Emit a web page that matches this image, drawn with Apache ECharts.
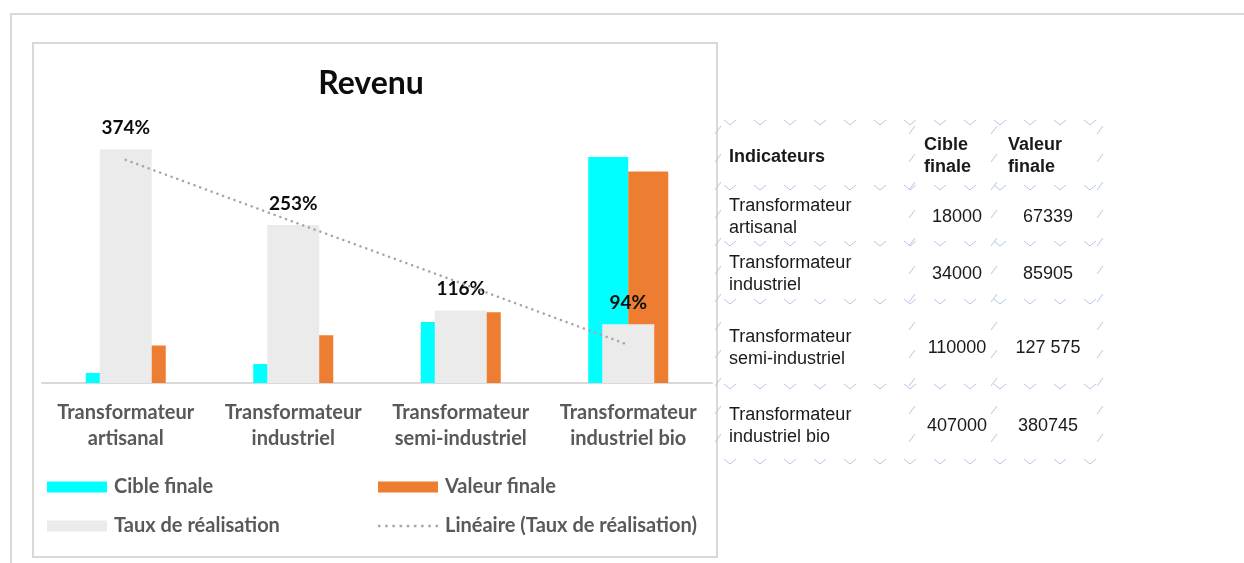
<!DOCTYPE html>
<html>
<head>
<meta charset="utf-8">
<title>Revenu</title>
<script src="https://cdn.jsdelivr.net/npm/echarts@6/dist/echarts.min.js"></script>
<style>
  html, body { margin: 0; padding: 0; background: #fff; }
  #main { width: 1244px; height: 563px; }
</style>
</head>
<body>
<div id="main"></div>
<script type="text/javascript">
// data
var categories = ['Transformateur\nartisanal', 'Transformateur\nindustriel',
                  'Transformateur\nsemi-industriel', 'Transformateur\nindustriel bio'];
var cibleFinale = [18000, 34000, 110000, 407000];
var valeurFinale = [67339, 85905, 127575, 380745];
var tauxRealisation = [3.74, 2.53, 1.16, 0.94];
var tendance = [3.57, 2.58, 1.60, 0.61];   // linear trend line
var cibleTexte = ['18000', '34000', '110000', '407000'];
var valeurTexte = ['67339', '85905', '127 575', '380745'];

var myChart = echarts.init(document.getElementById('main'));

var font = 'Lato, "Open Sans", sans-serif';
var tableFont = '"Liberation Sans", Arial, sans-serif';
var grid = { left: 42, right: 532, top: 133, bottom: 180 };

// decorative table borders (chevron pattern)
var deco = [];
var chevColor = '#b4c6e7';
var hLines = [123, 188, 244, 302, 387, 462];
hLines.forEach(function (y) {
  for (var x = 724; x < 1098; x += 30) {
    deco.push({ type: 'polyline', silent: true,
      shape: { points: [[x, y - 3], [x + 6, y + 2], [x + 12, y - 3]] },
      style: { stroke: chevColor, lineWidth: 1, fill: null } });
  }
});
[718, 912, 994, 1100].forEach(function (x) {
  for (var y = 130; y < 460; y += 28) {
    deco.push({ type: 'line', silent: true,
      shape: { x1: x - 3, y1: y + 4, x2: x + 3, y2: y - 4 },
      style: { stroke: chevColor, lineWidth: 1 } });
  }
});

// table texts
var tableTexts = [];
function txt(s, x, y, opts) {
  opts = opts || {};
  tableTexts.push({ type: 'text', silent: true, z: 10,
    style: { text: s, x: x, y: y, fill: '#1a1a1a',
      font: (opts.bold ? 'bold ' : '') + '18px ' + tableFont,
      lineHeight: 22,
      textAlign: opts.align || 'left', align: opts.align || 'left',
      textVerticalAlign: 'middle', verticalAlign: 'middle' } });
}
txt('Indicateurs', 729, 157, { bold: true });
txt('Cible\nfinale', 924, 156, { bold: true });
txt('Valeur\nfinale', 1008, 156, { bold: true });
var rowY = [217, 274, 348, 426];
categories.forEach(function (c, i) {
  txt(c, 729, rowY[i]);
  txt(cibleTexte[i], 957, rowY[i], { align: 'center' });
  txt(valeurTexte[i], 1048, rowY[i], { align: 'center' });
});

// dotted icon for the trend line legend
var dots = 'path://';
for (var d = 0; d < 9; d++) {
  dots += 'M' + (d * 7.25) + ',0h2.5v2.5h-2.5z';
}

var legendText = { color: '#595959', fontWeight: 'bold', fontSize: 20, fontFamily: font, padding: [0, 0, 0, 2] };
function legendAt(item, left, top, h) {
  return { data: [item], left: left, top: top, itemWidth: 60, itemHeight: h || 11,
           icon: 'rect', itemGap: 0, textStyle: legendText, selectedMode: false, padding: 0 };
}

var option = {
  backgroundColor: '#ffffff',
  animation: false,
  title: {
    text: 'Revenu', left: 366, top: 63, textAlign: 'center',
    textStyle: { fontSize: 32, fontWeight: 'bold', color: '#0d0d0d', fontFamily: font }
  },
  legend: [
    legendAt('Cible finale', 47, 477),
    legendAt('Valeur finale', 378, 477),
    legendAt('Taux de réalisation', 47, 516),
    legendAt({ name: 'Linéaire (Taux de réalisation)', icon: dots }, 378, 516, 3)
  ],
  grid: grid,
  xAxis: [
    {
      type: 'category', data: categories,
      axisLine: { lineStyle: { color: '#d9d9d9', width: 2 } },
      axisTick: { show: false },
      axisLabel: { color: '#595959', fontWeight: 'bold', fontSize: 20, fontFamily: font,
                   lineHeight: 26, margin: 17, interval: 0 }
    },
    { type: 'category', data: categories, show: false }
  ],
  yAxis: [
    { type: 'value', min: 0, max: 450000, show: false, splitLine: { show: false } },
    { type: 'value', min: 0, max: 4, show: false, splitLine: { show: false } }
  ],
  series: [
    { name: 'Cible finale', type: 'bar', data: cibleFinale, barWidth: 40, barGap: '0%',
      itemStyle: { color: '#00ffff' } },
    { name: 'Valeur finale', type: 'bar', data: valeurFinale, barWidth: 40,
      itemStyle: { color: '#ed7d31' } },
    { name: 'Taux de réalisation', type: 'bar', data: tauxRealisation, barWidth: 52,
      xAxisIndex: 1, yAxisIndex: 1,
      itemStyle: { color: '#ebebeb' },
      label: { show: true, position: 'top', distance: 12, color: '#0d0d0d',
               fontWeight: 'bold', fontSize: 19, fontFamily: font,
               formatter: function (p) { return Math.round(p.value * 100) + '%'; } } },
    { name: 'Linéaire (Taux de réalisation)', type: 'line', data: tendance,
      xAxisIndex: 1, yAxisIndex: 1, symbol: 'none', z: 5,
      itemStyle: { color: '#a6a6a6' },
      lineStyle: { color: '#a6a6a6', width: 2.5, type: [0.1, 6], cap: 'round' } }
  ],
  graphic: [
    // outer frame
    { type: 'polyline', silent: true,
      shape: { points: [[11, 563], [11, 14], [1244, 14]] },
      style: { stroke: '#d9d9d9', lineWidth: 2, fill: null } },
    // chart panel border
    { type: 'rect', silent: true, z: -1,
      shape: { x: 33, y: 43, width: 684, height: 514 },
      style: { stroke: '#d9d9d9', lineWidth: 2, fill: '#ffffff' } }
  ].concat(deco).concat(tableTexts)
};
myChart.setOption(option);
</script>
</body>
</html>
